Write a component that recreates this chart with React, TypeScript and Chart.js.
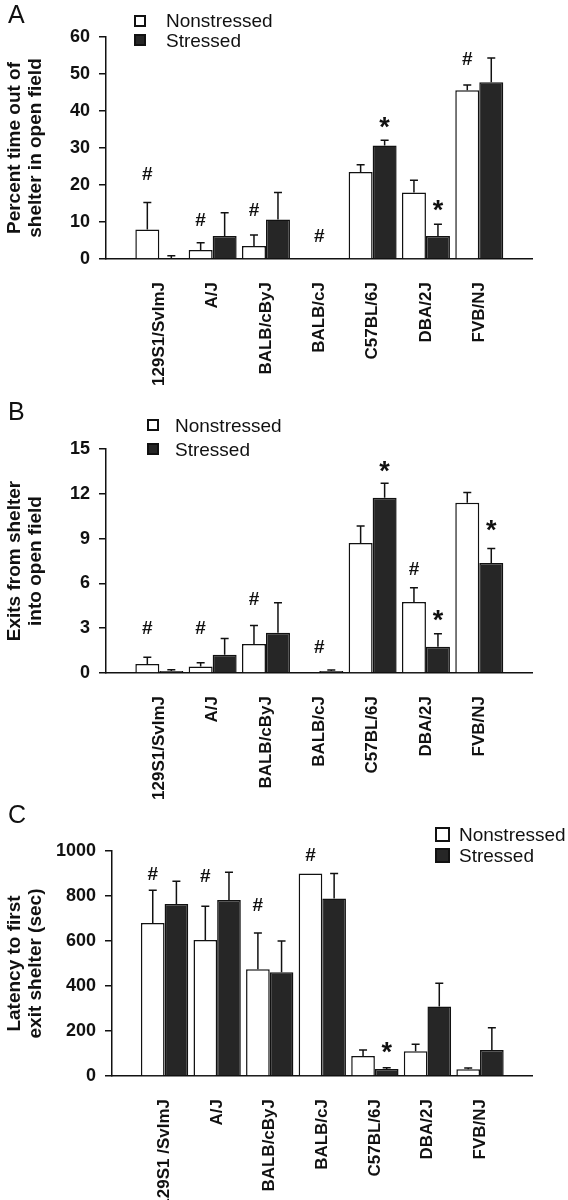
import React, { useEffect, useRef } from 'react';
import { Chart, registerables } from 'chart.js';

Chart.register(...registerables);

// ---------- data ----------
const seriesNames = ['Nonstressed', 'Stressed'];
const strainsAB = ['129S1/SvImJ', 'A/J', 'BALB/cByJ', 'BALB/cJ', 'C57BL/6J', 'DBA/2J', 'FVB/NJ'];
const strainsC = ['129S1 /SvImJ', 'A/J', 'BALB/cByJ', 'BALB/cJ', 'C57BL/6J', 'DBA/2J', 'FVB/NJ'];

// Panel A: percent time out of shelter
const aNon = [8.0, 2.4, 3.5, 0, 23.5, 18.0, 45.6];
const aNonErr = [7.3, 2.0, 3.0, 0, 2.0, 3.3, 1.4];
const aStr = [0.3, 6.2, 10.7, 0, 30.7, 6.2, 47.8];
const aStrErr = [0.6, 6.3, 7.3, 0, 1.4, 3.2, 6.5];
const aTicks = { max: 60, step: 10 };
const aTitle = ['Percent time out of', 'shelter in open field'];
const aMarkCat = [0, 1, 2, 3, 4, 5, 6];
const aMarkSym = ['#', '#', '#', '#', '*', '*', '#'];
const aMarkSeries = [0, 0, 0, -1, 1, 1, 0];
const aMarkY = [23, 10.7, 13.5, 6.4, 37.3, 14.8, 54.3];

// Panel B: exits from shelter
const bNon = [0.6, 0.44, 1.94, 0, 8.7, 4.75, 11.4];
const bNonErr = [0.46, 0.25, 1.24, 0, 1.14, 0.96, 0.68];
const bStr = [0.14, 1.22, 2.7, 0.14, 11.74, 1.75, 7.37];
const bStrErr = [0.07, 1.09, 2.0, 0.06, 0.96, 0.88, 0.96];
const bTicks = { max: 15, step: 3 };
const bTitle = ['Exits from shelter', 'into open field'];
const bMarkCat = [0, 1, 2, 3, 4, 5, 5, 6];
const bMarkSym = ['#', '#', '#', '#', '*', '#', '*', '*'];
const bMarkSeries = [0, 0, 0, -1, 1, 0, 1, 1];
const bMarkY = [3.07, 3.07, 5.0, 1.8, 13.9, 7.0, 3.92, 10.0];

// Panel C: latency to first exit
const cNon = [680, 605, 474, 900, 89, 110, 30];
const cNonErr = [146, 150, 162, 0, 27, 31, 6];
const cStr = [765, 782, 461, 789, 31, 309, 116];
const cStrErr = [101, 124, 139, 111, 6, 103, 98];
const cTicks = { max: 1000, step: 200 };
const cTitle = ['Latency to first', 'exit shelter (sec)'];
const cMarkCat = [0, 1, 2, 3, 4];
const cMarkSym = ['#', '#', '#', '#', '*'];
const cMarkSeries = [0, 0, 0, 0, 1];
const cMarkY = [900, 889, 762, 985, 131];

// ---------- component ----------
const FONT = '"Liberation Sans", Arial, Helvetica, sans-serif';
const W = 568;
const H = 400;

type PanelProps = {
  top: number;
  letter: string;
  letterTop: number;
  boxLeft: number;
  boxSize: number;
  textLeft: number;
  rowY: number[];
  labels: string[];
  non: number[];
  nonErr: number[];
  str: number[];
  strErr: number[];
  yMax: number;
  yStep: number;
  yTitle: string[];
  markCat: number[];
  markSym: string[];
  markSeries: number[];
  markY: number[];
  areaTop: number;
  areaBottom: number;
  axisLeft: number;
  areaRight: number;
};

function Panel(p: PanelProps) {
  const ref = useRef<HTMLCanvasElement | null>(null);

  useEffect(() => {
    if (!ref.current) return;
    const pad = (a: number[]) => [null, ...a, null];
    const overlay = {
      id: 'errMarks',
      afterDatasetsDraw(chart: any) {
        const ctx = chart.ctx;
        const yS = chart.scales.y;
        const xS = chart.scales.x;
        const vals = [p.non, p.str];
        const errs = [p.nonErr, p.strErr];
        ctx.save();
        ctx.strokeStyle = '#111';
        ctx.lineWidth = 1.5;
        for (let s = 0; s < 2; s++) {
          const meta = chart.getDatasetMeta(s);
          vals[s].forEach((v, j) => {
            const e = errs[s][j];
            if (!e) return;
            const el = meta.data[j + 1];
            const x = el.x;
            const y0 = yS.getPixelForValue(v);
            const y1 = yS.getPixelForValue(v + e);
            ctx.beginPath();
            ctx.moveTo(x, y0);
            ctx.lineTo(x, y1);
            ctx.moveTo(x - 4, y1);
            ctx.lineTo(x + 4, y1);
            ctx.stroke();
          });
        }
        ctx.fillStyle = '#111';
        ctx.textAlign = 'center';
        ctx.textBaseline = 'alphabetic';
        p.markCat.forEach((c, k) => {
          const series = p.markSeries[k];
          const x = series >= 0
            ? chart.getDatasetMeta(series).data[c + 1].x
            : xS.getPixelForValue(c + 1);
          const y = yS.getPixelForValue(p.markY[k]);
          const sym = p.markSym[k];
          const size = sym === '*' ? 27 : 19;
          const off = sym === '*' ? 0.55 : 0.34;
          ctx.font = `bold ${size}px ${FONT}`;
          ctx.fillText(sym, x, y + off * size);
        });
        ctx.restore();
      },
    };

    const chart = new Chart(ref.current, {
      type: 'bar',
      data: {
        labels: ['', ...p.labels, ''],
        datasets: [
          {
            label: seriesNames[0],
            data: pad(p.non) as any,
            backgroundColor: '#ffffff',
            borderColor: '#111111',
            borderWidth: 1.5,
            borderSkipped: 'start',
            categoryPercentage: 0.9,
            barPercentage: 1.0,
          },
          {
            label: seriesNames[1],
            data: pad(p.str) as any,
            backgroundColor: '#262626',
            borderColor: '#111111',
            borderWidth: 1.5,
            borderSkipped: 'start',
            categoryPercentage: 0.9,
            barPercentage: 1.0,
          },
        ],
      },
      options: {
        responsive: false,
        animation: false,
        layout: { padding: { top: p.areaTop, right: W - p.areaRight, bottom: 0, left: 0 } },
        plugins: { legend: { display: false }, tooltip: { enabled: false } },
        scales: {
          x: {
            type: 'category',
            offset: false,
            grid: { display: false, offset: false },
            border: { display: true, color: '#111', width: 1.5 },
            ticks: {
              autoSkip: false,
              minRotation: 90,
              maxRotation: 90,
              padding: 15,
              color: '#111',
              font: { family: FONT, size: 17, weight: 'bold' },
            },
            afterFit: (s: any) => {
              s.height = H - p.areaBottom;
            },
          },
          y: {
            min: 0,
            max: p.yMax,
            ticks: {
              stepSize: p.yStep,
              padding: 9,
              color: '#111',
              font: { family: FONT, size: 18, weight: 'bold' },
              callback: (v: any) => String(v),
            },
            grid: { drawOnChartArea: false, drawTicks: true, tickLength: 7, color: '#111', lineWidth: 1.5 },
            border: { display: true, color: '#111', width: 1.5 },
            title: {
              display: true,
              text: p.yTitle,
              color: '#111',
              font: { family: FONT, size: 19, weight: 'bold', lineHeight: 1.1 },
              padding: { top: 4, bottom: 0 },
            },
            afterFit: (s: any) => {
              s.width = p.axisLeft;
            },
          },
        },
      } as any,
      plugins: [overlay],
    });
    return () => chart.destroy();
  }, []);

  return (
    <div style={{ position: 'absolute', left: 0, top: p.top, width: W, height: H }}>
      <canvas ref={ref} width={W} height={H} style={{ width: W, height: H, display: 'block' }} />
      <div
        style={{
          position: 'absolute',
          left: 8,
          top: p.letterTop,
          font: `25px ${FONT}`,
          lineHeight: '25px',
          color: '#111',
        }}
      >
        {p.letter}
      </div>
      {seriesNames.map((name, i) => (
        <React.Fragment key={name}>
          <div
            style={{
              position: 'absolute',
              left: p.boxLeft,
              top: p.rowY[i] - p.boxSize / 2,
              width: p.boxSize,
              height: p.boxSize,
              boxSizing: 'border-box',
              border: '2px solid #111',
              background: i === 0 ? '#ffffff' : '#262626',
            }}
          />
          <div
            style={{
              position: 'absolute',
              left: p.textLeft,
              top: p.rowY[i] - 9.5,
              font: `19px ${FONT}`,
              lineHeight: '19px',
              color: '#111',
              whiteSpace: 'nowrap',
            }}
          >
            {name}
          </div>
        </React.Fragment>
      ))}
    </div>
  );
}

export default function App() {
  return (
    <div style={{ position: 'absolute', left: 0, top: 0, width: W, height: 1200, background: '#fff' }}>
      <Panel
        top={0}
        letter="A"
        letterTop={2}
        boxLeft={134}
        boxSize={12}
        textLeft={166}
        rowY={[20.5, 40]}
        labels={strainsAB}
        non={aNon}
        nonErr={aNonErr}
        str={aStr}
        strErr={aStrErr}
        yMax={aTicks.max}
        yStep={aTicks.step}
        yTitle={aTitle}
        markCat={aMarkCat}
        markSym={aMarkSym}
        markSeries={aMarkSeries}
        markY={aMarkY}
        areaTop={37}
        areaBottom={259}
        axisLeft={106}
        areaRight={551}
      />
      <Panel
        top={400}
        letter="B"
        letterTop={-1}
        boxLeft={147}
        boxSize={12}
        textLeft={175}
        rowY={[25, 49]}
        labels={strainsAB}
        non={bNon}
        nonErr={bNonErr}
        str={bStr}
        strErr={bStrErr}
        yMax={bTicks.max}
        yStep={bTicks.step}
        yTitle={bTitle}
        markCat={bMarkCat}
        markSym={bMarkSym}
        markSeries={bMarkSeries}
        markY={bMarkY}
        areaTop={49}
        areaBottom={273}
        axisLeft={106}
        areaRight={551}
      />
      <Panel
        top={800}
        letter="C"
        letterTop={2}
        boxLeft={435}
        boxSize={15}
        textLeft={459}
        rowY={[34.5, 55.5]}
        labels={strainsC}
        non={cNon}
        nonErr={cNonErr}
        str={cStr}
        strErr={cStrErr}
        yMax={cTicks.max}
        yStep={cTicks.step}
        yTitle={cTitle}
        markCat={cMarkCat}
        markSym={cMarkSym}
        markSeries={cMarkSeries}
        markY={cMarkY}
        areaTop={51}
        areaBottom={276}
        axisLeft={112}
        areaRight={552}
      />
    </div>
  );
}
